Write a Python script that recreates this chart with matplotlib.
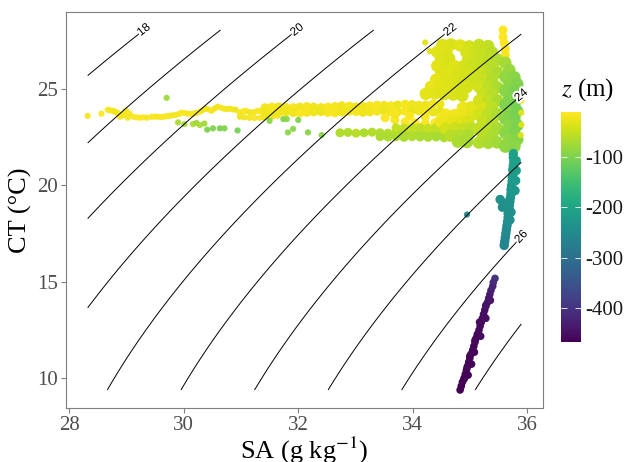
import numpy as np
import matplotlib
matplotlib.use("Agg")
import matplotlib.pyplot as plt
from matplotlib.colors import Normalize
import matplotlib.patheffects as pe

plt.rcParams['font.family'] = ['Liberation Serif', 'DejaVu Serif']
plt.rcParams['mathtext.fontset'] = 'stix'

# ---------------- data ----------------
# thin surface streak and scattered single casts
fine_sa = [28.32, 28.56, 28.67, 28.72, 28.77, 28.84, 28.91, 28.98, 29.05, 29.12, 29.18, 29.23,
           29.30, 29.36, 29.44, 29.50, 29.54, 29.60, 29.65, 29.70, 29.75, 29.80, 29.86, 29.92,
           29.96, 30.02, 30.07, 30.12, 30.17, 30.22, 30.28, 30.33, 30.38, 30.44, 30.49, 30.54,
           30.59, 30.65, 30.70, 30.75, 30.80, 30.86, 30.91, 30.98, 31.03, 31.08, 31.14, 31.19,
           31.24, 31.29, 31.35, 30.98, 31.06, 31.15, 31.24, 31.33, 31.40, 31.47, 31.56, 31.64,
           28.88, 29.02, 28.80, 28.95, 29.00, 28.86,
           29.90, 30.01, 30.16, 30.22, 30.28, 30.36, 30.41, 30.51, 30.63, 30.71, 30.94,
           31.50, 31.74, 31.80, 32.00, 31.82, 31.91, 32.17, 32.41, 29.70,
           35.90, 35.90, 35.90, 35.89, 34.95, 34.22, 34.30]
fine_ct = [23.60, 23.71, 23.91, 23.88, 23.86, 23.76, 23.60, 23.86, 23.71, 23.55, 23.52, 23.50,
           23.52, 23.50, 23.55, 23.56, 23.55, 23.54, 23.55, 23.58, 23.60, 23.62, 23.65, 23.70,
           23.76, 23.74, 23.71, 23.70, 23.71, 23.76, 23.81, 23.90, 23.97, 23.92, 23.86, 23.98,
           24.07, 24.02, 23.97, 23.95, 23.97, 23.93, 23.91, 23.76, 23.82, 23.86, 23.80, 23.76,
           23.80, 23.86, 23.84, 23.55, 23.52, 23.50, 23.48, 23.50, 23.52, 23.55, 23.58, 23.60,
           23.55, 23.50, 23.80, 23.65, 23.82, 23.70,
           23.26, 23.17, 23.17, 23.23, 23.12, 23.20, 22.88, 22.95, 22.95, 22.95, 22.84,
           23.34, 23.43, 23.43, 23.38, 22.74, 22.92, 22.74, 22.60, 24.53,
           24.38, 23.76, 23.14, 22.60, 18.48, 27.40, 26.95]
fine_z = [-14, -12, -15, -16, -18, -16, -13, -20, -15, -14, -13, -12,
          -15, -16, -18, -14, -15, -17, -13, -16, -17, -19, -20, -18,
          -16, -15, -14, -17, -18, -16, -15, -19, -22, -20, -17, -18,
          -20, -16, -16, -19, -18, -20, -21, -15, -17, -17, -18, -19,
          -16, -16, -18, -20, -19, -18, -16, -15, -20, -22, -21, -19,
          -14, -16, -21, -18, -15, -17,
          -70, -72, -68, -75, -70, -74, -100, -98, -102, -96, -104,
          -92, -95, -90, -96, -88, -92, -94, -90, -75,
          -22, -26, -30, -35, -248, -30, -34]

# thick part of the surface streak, yellow tongue, light-green streak, yellow spike
band_sa = [31.42, 31.54, 31.66, 31.78, 31.91, 32.03, 32.15, 32.27, 32.40, 32.52, 32.64, 32.76, 32.89,
           33.01, 33.13, 33.25, 33.38, 33.50, 33.62, 33.74, 33.87, 33.99, 34.11, 34.23, 34.36, 34.48,
           31.42, 31.54, 31.66, 31.78, 31.91, 32.03, 32.15, 32.27, 32.40, 32.52, 32.64, 32.76, 32.89,
           33.01, 33.13, 33.25, 33.38, 33.50, 33.62, 33.74, 33.87, 33.99, 34.11, 34.23, 34.36, 34.48,
           33.52, 33.69, 33.87, 34.04, 34.22, 34.39, 33.69, 33.95, 34.22, 34.48, 34.57, 34.65,
           32.73, 32.87, 33.01, 33.15, 33.29, 33.43, 33.57, 33.71, 33.85, 33.99, 34.13, 34.27, 34.41, 34.55,
           33.71, 33.85, 33.99, 34.13, 34.27, 34.41,
           33.43, 33.57, 33.71, 33.85, 33.99, 34.13, 34.27, 34.41, 34.55,
           35.58, 35.58, 35.60, 35.62, 35.62, 35.63]
band_ct = [24.02, 24.05, 24.06, 24.04, 24.02, 24.05, 24.08, 24.05, 24.03, 24.05, 24.08, 24.12, 24.10,
           24.06, 24.08, 24.12, 24.15, 24.14, 24.12, 24.16, 24.20, 24.18, 24.15, 24.16, 24.22, 24.20,
           23.76, 23.74, 23.78, 23.80, 23.77, 23.75, 23.78, 23.80, 23.82, 23.78, 23.76, 23.80, 23.84,
           23.82, 23.78, 23.80, 23.84, 23.86, 23.82, 23.80, 23.84, 23.88, 23.86, 23.82, 23.80, 23.84,
           23.50, 23.40, 23.29, 23.24, 23.19, 23.24, 23.71, 23.60, 23.55, 23.50, 23.10, 22.98,
           22.72, 22.74, 22.70, 22.72, 22.75, 22.72, 22.70, 22.72, 22.74, 22.70, 22.72, 22.75, 22.72, 22.70,
           22.98, 22.96, 23.00, 22.98, 22.95, 22.98,
           22.52, 22.50, 22.52, 22.48, 22.52, 22.50, 22.48, 22.50, 22.46,
           28.05, 27.69, 27.38, 27.07, 26.76, 26.45]
band_z = [-18, -15, -20, -17, -14, -19, -16, -21, -18, -15, -17, -20, -16,
          -19, -22, -17, -15, -20, -18, -23, -16, -19, -21, -24, -18, -22,
          -20, -16, -18, -22, -19, -15, -17, -20, -23, -18, -16, -21, -19,
          -17, -22, -20, -18, -24, -19, -21, -17, -26, -22, -20, -25, -28,
          -12, -14, -11, -13, -15, -12, -16, -14, -13, -15, -18, -20,
          -62, -64, -60, -66, -63, -65, -61, -64, -66, -62, -65, -67, -63, -66,
          -50, -52, -48, -55, -50, -53,
          -66, -68, -64, -67, -65, -68, -66, -70, -68,
          -10, -10, -11, -12, -14, -20]

# dense warm cloud (SA > 34.2): upper lobe, lower part, lime band, green band
cloud_sa = [34.52, 34.67, 34.83, 34.99,
            34.43, 34.59, 34.94, 35.08,
            34.50, 34.64, 34.97,
            34.43, 34.59, 34.74, 34.90, 35.04,
            34.50, 34.66, 34.81, 34.97,
            34.41, 34.57, 34.72, 34.88, 35.04,
            34.32, 34.48, 34.64, 34.79, 34.95,
            34.23, 34.39, 34.55, 34.71, 34.87,
            34.88, 35.02,
            34.58, 34.74, 34.90, 35.04,
            34.50, 34.66, 34.81, 34.97,
            34.58, 34.74, 34.90, 35.04,
            34.66, 34.81, 34.97,
            34.79, 34.95,
            35.16, 35.32,
            35.23, 35.39,
            35.16, 35.32, 35.48,
            35.23, 35.39,
            35.16, 35.32, 35.48,
            35.23, 35.39,
            35.16, 35.32, 35.48,
            35.23, 35.39,
            35.16, 35.32, 35.48,
            35.23, 35.39,
            35.16, 35.32, 35.48,
            35.23, 35.39,
            35.16, 35.32, 35.48,
            35.23, 35.39,
            35.16, 35.32, 35.48,
            35.62,
            35.69,
            35.62, 35.78,
            35.69, 35.83,
            35.62, 35.78,
            35.69, 35.83,
            35.62, 35.78,
            35.69, 35.83,
            35.62, 35.78,
            35.69, 35.83,
            35.62, 35.78,
            35.69, 35.83,
            35.62, 35.78]
cloud_ct = [27.27, 27.30, 27.25, 27.20,
            26.91, 26.93, 26.90, 26.88,
            26.55, 26.57, 26.52,
            26.19, 26.21, 26.17, 26.20, 26.18,
            25.83, 25.85, 25.80, 25.84,
            25.47, 25.45, 25.49, 25.46, 25.44,
            25.10, 25.12, 25.08, 25.11, 25.09,
            24.74, 24.76, 24.72, 24.70, 24.64,
            24.02, 24.04,
            23.66, 23.64, 23.68, 23.66,
            23.29, 23.31, 23.27, 23.30,
            22.93, 22.95, 22.91, 22.93,
            22.57, 22.55, 22.58,
            22.26, 22.24,
            27.27, 27.22,
            26.91, 26.88,
            26.55, 26.52, 26.50,
            26.19, 26.17,
            25.83, 25.80, 25.85,
            25.47, 25.45,
            25.10, 25.12, 25.08,
            24.74, 24.72,
            24.38, 24.36, 24.40,
            24.02, 24.00,
            23.66, 23.64, 23.68,
            23.29, 23.31,
            22.93, 22.90, 22.95,
            22.57, 22.55,
            22.21, 22.20, 22.22,
            26.35,
            25.98,
            25.62, 25.60,
            25.26, 25.24,
            24.90, 24.88,
            24.53, 24.55,
            24.17, 24.15,
            23.81, 23.83,
            23.45, 23.43,
            23.09, 23.11,
            22.72, 22.70,
            22.36, 22.38,
            22.00, 22.02]
cloud_z = [-34, -36, -33, -40,
           -30, -35, -38, -45,
           -34, -38, -42,
           -30, -36, -33, -40, -46,
           -35, -32, -38, -42,
           -28, -33, -36, -40, -44,
           -26, -30, -35, -38, -40,
           -28, -30, -34, -36, -40,
           -22, -28,
           -18, -20, -24, -30,
           -22, -26, -30, -38,
           -40, -45, -50, -55,
           -58, -62, -66,
           -66, -70,
           -48, -52,
           -50, -58,
           -46, -55, -64,
           -50, -60,
           -45, -56, -66,
           -48, -62,
           -42, -55, -68,
           -46, -60,
           -40, -52, -66,
           -38, -56,
           -42, -55, -68,
           -48, -60,
           -52, -60, -70,
           -58, -66,
           -62, -68, -74,
           -72,
           -80,
           -84, -92,
           -88, -96,
           -92, -100,
           -95, -104,
           -98, -106,
           -96, -104,
           -94, -102,
           -92, -100,
           -90, -98,
           -88, -94,
           -86, -90]

# thermocline (teal) casts
thermo_sa = [35.76, 35.76, 35.77, 35.76, 35.75, 35.76, 35.74, 35.74, 35.73, 35.72, 35.72, 35.71,
             35.70, 35.69, 35.69, 35.67, 35.67, 35.66, 35.65, 35.64, 35.63, 35.62, 35.61, 35.60,
             35.81, 35.81, 35.80, 35.79, 35.53, 35.58, 35.57, 35.72, 35.70]
thermo_ct = [21.64, 21.43, 21.22, 21.02, 20.81, 20.60, 20.40, 20.19, 19.98, 19.78, 19.57, 19.36,
             19.15, 18.95, 18.74, 18.53, 18.33, 18.12, 17.91, 17.71, 17.50, 17.29, 17.08, 16.88,
             21.28, 20.76, 20.24, 19.72, 19.26, 19.10, 18.86, 18.60, 18.20]
thermo_z = [-205, -207, -209, -211, -213, -215, -218, -220, -222, -225, -228, -230,
            -232, -235, -237, -240, -242, -244, -246, -248, -250, -252, -254, -257,
            -210, -214, -219, -225, -238, -236, -240, -238, -242]

# deep (purple) casts
deep_sa = [35.44, 35.41, 35.40, 35.37, 35.35, 35.33, 35.31, 35.28, 35.26, 35.24, 35.22, 35.20,
           35.18, 35.16, 35.13, 35.11, 35.09, 35.07, 35.05, 35.02, 35.00, 34.98, 34.96, 34.94,
           34.92, 34.90, 34.87, 34.85, 34.83,
           35.28, 35.36, 35.17, 35.28, 35.09, 35.19, 35.00, 35.08, 34.95, 35.03, 34.90, 34.97]
deep_ct = [15.17, 14.96, 14.76, 14.55, 14.34, 14.14, 13.93, 13.72, 13.52, 13.31, 13.10, 12.89,
           12.69, 12.48, 12.27, 12.07, 11.86, 11.65, 11.45, 11.24, 11.03, 10.83, 10.62, 10.41,
           10.20, 10.00, 9.79, 9.58, 9.38,
           13.78, 14.03, 12.90, 13.10, 11.96, 12.17, 11.14, 11.34, 10.52, 10.72, 9.95, 10.15]
deep_z = [-400, -410, -418, -425, -432, -438, -442, -446, -449, -451, -453, -455,
          -456, -457, -458, -459, -460, -461, -462, -462, -463, -464, -464, -465,
          -465, -466, -466, -467, -467,
          -446, -440, -455, -452, -459, -457, -463, -461, -464, -463, -466, -465]

z_min, z_max = -468, -10
sigma_levels = [18, 19, 20, 21, 22, 23, 24, 25, 26, 27]
label_levels = [18, 20, 22, 24, 26]
x_ticks = [28, 30, 32, 34, 36]
y_ticks = [10, 15, 20, 25]
cbar_ticks = [-100, -200, -300, -400]


def sigma0(SA, CT):
    """Surface potential density anomaly (EOS-80, SA converted to SP)."""
    S = SA * 35.0 / 35.16504
    T = CT
    rho_w = (999.842594 + 6.793952e-2 * T - 9.095290e-3 * T**2 + 1.001685e-4 * T**3
             - 1.120083e-6 * T**4 + 6.536332e-9 * T**5)
    A = 0.824493 - 4.0899e-3 * T + 7.6438e-5 * T**2 - 8.2467e-7 * T**3 + 5.3875e-9 * T**4
    B = -5.72466e-3 + 1.0227e-4 * T - 1.6546e-6 * T**2
    C = 4.8314e-4
    return rho_w + A * S + B * S**1.5 + C * S**2 - 1000.0


# ---------------- figure ----------------
fig = plt.figure(figsize=(6.25, 4.62), dpi=100)
ax = fig.add_axes([66 / 625, 54 / 462, 477 / 625, 396 / 462])
cax = fig.add_axes([561 / 625, 120 / 462, 20 / 625, 230 / 462])

cmap = plt.get_cmap('viridis')
norm = Normalize(vmin=z_min, vmax=z_max)

groups = [
    (band_sa, band_ct, band_z, 42, 1.0),
    (cloud_sa, cloud_ct, cloud_z, 80, 1.0),
    (fine_sa, fine_ct, fine_z, 20, 0.95),
    (thermo_sa, thermo_ct, thermo_z, 46, 1.0),
    (deep_sa, deep_ct, deep_z, 30, 1.0),
]
sc = None
for gsa, gct, gz, size, alpha in groups:
    sc = ax.scatter(gsa, gct, c=gz, cmap=cmap, norm=norm, s=size,
                    edgecolors='none', alpha=alpha, zorder=2)

all_sa = np.concatenate([np.asarray(g[0]) for g in groups])
all_ct = np.concatenate([np.asarray(g[1]) for g in groups])

# density contours over the data range
sa_grid = np.linspace(all_sa.min(), all_sa.max(), 300)
ct_grid = np.linspace(all_ct.min(), all_ct.max(), 300)
SAg, CTg = np.meshgrid(sa_grid, ct_grid)
SIG = sigma0(SAg, CTg)
cs = ax.contour(SAg, CTg, SIG, levels=sigma_levels, colors='black',
                linewidths=0.7, zorder=3)

# axes limits with 5% expansion
sa_pad = 0.05 * (all_sa.max() - all_sa.min())
ct_pad = 0.05 * (all_ct.max() - all_ct.min())
ax.set_xlim(all_sa.min() - sa_pad, all_sa.max() + sa_pad)
ax.set_ylim(all_ct.min() - ct_pad, all_ct.max() + ct_pad)

# contour labels at the upper end of each labelled isopycnal
for lev in label_levels:
    i = sigma_levels.index(lev)
    segs = cs.allsegs[i]
    if not segs:
        continue
    seg = max(segs, key=len)
    if seg[0, 1] > seg[-1, 1]:
        seg = seg[::-1]
    end = seg[-1]
    disp = ax.transData.transform(seg)
    d_end = disp[-1]
    dist = np.hypot(*(disp - d_end).T)
    j = np.argmin(np.abs(dist - 18))
    dx, dy = d_end - disp[j]
    ang = np.degrees(np.arctan2(dy, dx))
    ax.text(end[0], end[1], str(lev), rotation=ang, rotation_mode='anchor',
            ha='center', va='center', fontsize=8.5, family='Liberation Sans',
            color='black', zorder=4,
            path_effects=[pe.withStroke(linewidth=3, foreground='white')])

# axes styling
grey = '#7f7f7f'
for sp in ax.spines.values():
    sp.set_color(grey)
    sp.set_linewidth(0.8)
ax.set_xticks(x_ticks)
ax.set_yticks(y_ticks)
ax.tick_params(axis='both', colors=grey, labelcolor='#4d4d4d', labelsize=15,
               length=3.5, width=0.8, pad=2)
ax.set_xlabel('SA (g kg$^{-1}$)', fontsize=19, color='black', labelpad=0)
ax.set_ylabel('CT (°C)', fontsize=19, color='black', labelpad=4)

# colourbar
cb = fig.colorbar(sc, cax=cax)
cb.outline.set_visible(False)
cb.set_ticks(cbar_ticks)
cb.set_ticklabels([str(t) for t in cbar_ticks])
cax.tick_params(axis='y', direction='in', colors='white', left=True, right=True,
                length=4, width=0.6, labelcolor='#1a1a1a', labelsize=15, pad=3)
cax.text(0.0, 1.04, '$z$ (m)', transform=cax.transAxes, ha='left', va='bottom',
         fontsize=18, color='black')

fig.savefig('out.png', dpi=100)
